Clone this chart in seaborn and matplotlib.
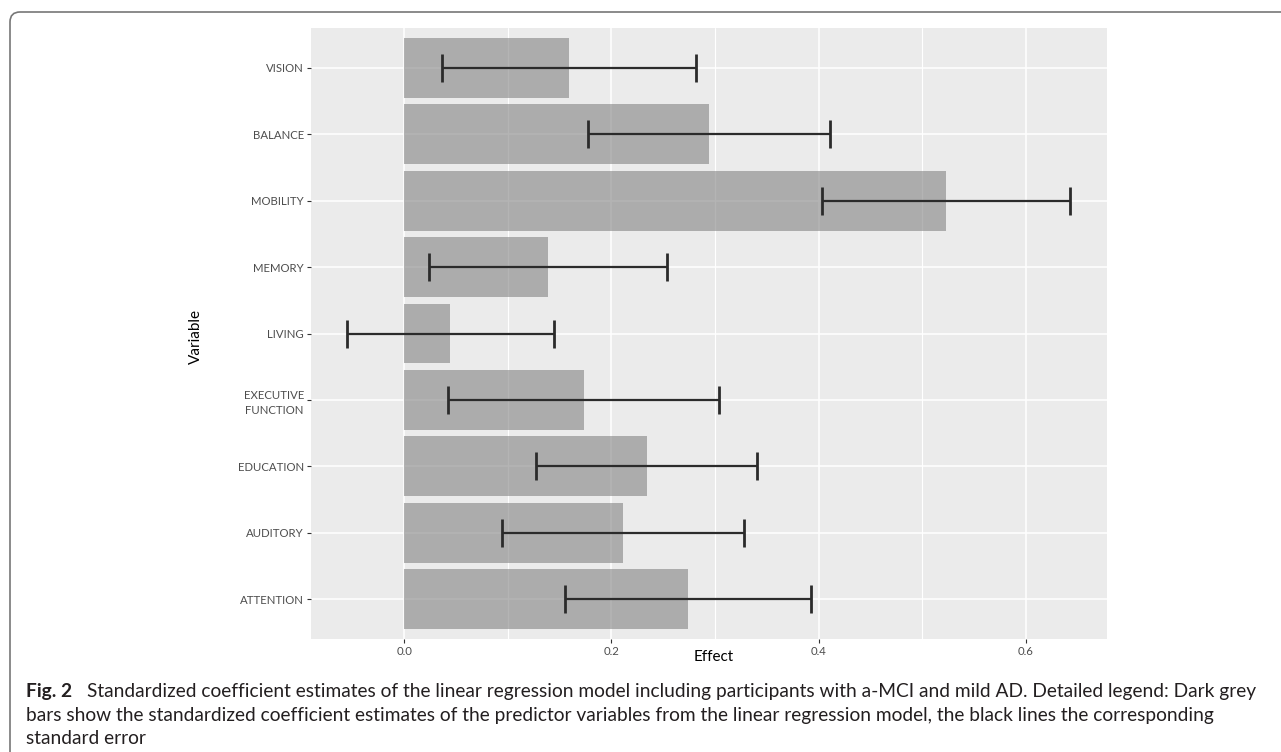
import matplotlib
matplotlib.use("Agg")
import numpy as np
import pandas as pd
import matplotlib.pyplot as plt
import seaborn as sns
from matplotlib.patches import FancyBboxPatch
from matplotlib.transforms import IdentityTransform
from matplotlib.ticker import MultipleLocator

# --- values ---
variables = ["VISION", "BALANCE", "MOBILITY", "MEMORY", "LIVING",
             "EXECUTIVE\nFUNCTION", "EDUCATION", "AUDITORY", "ATTENTION"]
effect = [0.159, 0.294, 0.523, 0.139, 0.044, 0.173, 0.234, 0.211, 0.274]
std_err = [0.123, 0.117, 0.120, 0.115, 0.100, 0.131, 0.107, 0.117, 0.119]
x_ticks = [0.0, 0.2, 0.4, 0.6]
x_tick_labels = ["0.0", "0.2", "0.4", "0.6"]

caption_lead = "Fig. 2"
caption_lines = [
    "Standardized coefficient estimates of the linear regression model including "
    "participants with a-MCI and mild AD. Detailed legend: Dark grey",
    "bars show the standardized coefficient estimates of the predictor variables "
    "from the linear regression model, the black lines the corresponding",
    "standard error",
]

df = pd.DataFrame({"Variable": variables, "Effect": effect, "SE": std_err})

sns.set_theme(style="darkgrid")
plt.rcParams["font.family"] = ["Lato", "DejaVu Sans"]

fig = plt.figure(figsize=(12.81, 7.52), dpi=100)
ax = fig.add_axes([311 / 1281, 1 - 639 / 752, 796 / 1281, 611 / 752])
ax.set_facecolor("#EBEBEB")

sns.barplot(data=df, x="Effect", y="Variable", orient="h", color="#838383",
            saturation=1, alpha=0.6, width=0.9, errorbar=None, linewidth=0, ax=ax)

# standard error bars
ypos = np.arange(len(df))
eb = ax.errorbar(df["Effect"], ypos, xerr=df["SE"], fmt="none",
                 ecolor="#2b2b2b", elinewidth=1.6, capsize=10.3, capthick=2.0, zorder=3)
for cap in eb[1]:
    cap.set_color("black")

ax.set_xlim(-0.0903, 0.6787)
ax.set_ylim(len(df) - 0.4, -0.6)
ax.set_xticks(x_ticks)
ax.set_xticklabels(x_tick_labels)
ax.xaxis.set_minor_locator(MultipleLocator(0.1))

ax.set_axisbelow(True)
ax.grid(which="major", color="white", linewidth=1.1)
ax.grid(which="minor", axis="x", color="white", linewidth=0.8)
for s in ax.spines.values():
    s.set_visible(False)

ax.tick_params(axis="both", which="major", length=3, width=0.8, color="#333333",
               labelsize=8.2, labelcolor="#4D4D4D", pad=2, bottom=True, left=True)
ax.tick_params(axis="x", which="minor", length=0)
for lab in ax.get_yticklabels():
    lab.set_multialignment("center")
    lab.set_linespacing(1.5)

ax.set_xlabel("Effect", fontsize=11, color="black")
ax.xaxis.set_label_coords((714 - 311) / 796, -(657 - 639) / 611)
ax.xaxis.label.set_va("center")
ax.set_ylabel("Variable", fontsize=11, color="black")
ax.yaxis.set_label_coords(-(311 - 196) / 796, (639 - 336) / 611)
ax.yaxis.label.set_va("center")

# caption below the plot
cap_color = "#231F20"
cap_size = 13.8
fig.text(26 / 1281, 1 - 692 / 752, caption_lead, fontsize=cap_size, fontweight="bold",
         color=cap_color, va="center", ha="left")
fig.text(87 / 1281, 1 - 692 / 752, caption_lines[0], fontsize=cap_size,
         color=cap_color, va="center", ha="left")
fig.text(26 / 1281, 1 - 716 / 752, caption_lines[1], fontsize=cap_size,
         color=cap_color, va="center", ha="left")
fig.text(26 / 1281, 1 - 739 / 752, caption_lines[2], fontsize=cap_size,
         color=cap_color, va="center", ha="left")

# page frame (rounded top-left corner)
frame = FancyBboxPatch((10, -40), 1400, 740 + 40,
                       boxstyle="round,pad=0,rounding_size=10",
                       transform=IdentityTransform(), fill=False,
                       edgecolor="#777777", linewidth=1.2)
fig.add_artist(frame)

fig.savefig("out.png", dpi=100)
